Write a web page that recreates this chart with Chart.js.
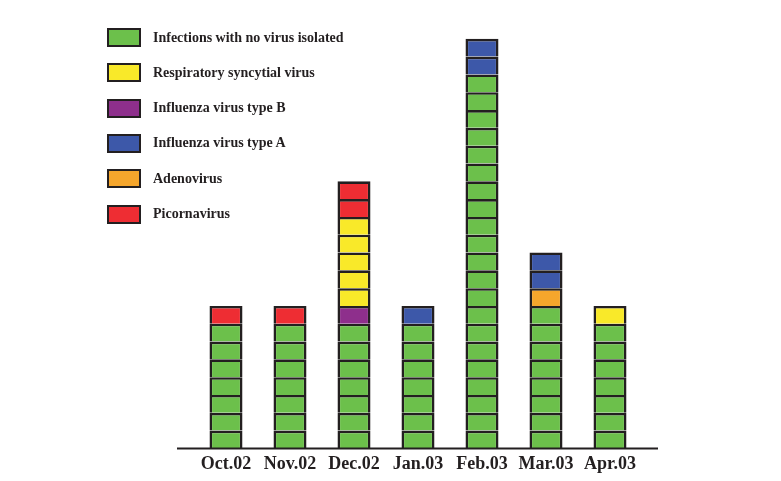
<!DOCTYPE html>
<html>
<head>
<meta charset="utf-8">
<script src="https://cdn.jsdelivr.net/npm/chart.js@4"></script>
<style>
html,body{margin:0;padding:0;background:#fff;}
#wrap{position:relative;width:781px;height:481px;}
canvas{position:absolute;left:0;top:0;}
.leg{position:absolute;left:107px;height:19px;display:flex;align-items:center;}
.sw{width:34px;height:19px;box-sizing:border-box;border:2px solid #231f20;}
.lt{position:absolute;left:46px;white-space:nowrap;font:bold 14px "Liberation Serif","Times New Roman",serif;color:#231f20;}
</style>
</head>
<body>
<div id="wrap"><canvas id="c" width="781" height="481"></canvas><div id="legend"></div></div>
<script>
const categories = ['Oct.02','Nov.02','Dec.02','Jan.03','Feb.03','Mar.03','Apr.03'];
const noVirus  = [7, 7, 7, 7, 21, 8, 7];
const rsv      = [0, 0, 5, 0, 0, 0, 1];
const fluB     = [0, 0, 1, 0, 0, 0, 0];
const fluA     = [0, 0, 0, 1, 2, 2, 0];
const adeno    = [0, 0, 0, 0, 0, 1, 0];
const picorna  = [1, 1, 2, 0, 0, 0, 0];

const series = {
  noVirus: {label:'Infections with no virus isolated', data:noVirus, color:'#6cc04b'},
  rsv:     {label:'Respiratory syncytial virus', data:rsv, color:'#f9e929'},
  fluB:    {label:'Influenza virus type B', data:fluB, color:'#8e2f8c'},
  fluA:    {label:'Influenza virus type A', data:fluA, color:'#3d58a9'},
  adeno:   {label:'Adenovirus', data:adeno, color:'#f5a62c'},
  picorna: {label:'Picornavirus', data:picorna, color:'#ee2d33'}
};
const stackOrder = ['noVirus','fluB','adeno','fluA','rsv','picorna'];
const legendOrder = ['noVirus','rsv','fluB','fluA','adeno','picorna'];

// one dataset per unit case (each box = one case)
const datasets = [];
stackOrder.forEach(key => {
  const s = series[key];
  const m = Math.max(...s.data);
  for (let k = 0; k < m; k++) {
    datasets.push({
      label: s.label,
      data: s.data.map(v => v > k ? 1 : null),
      backgroundColor: s.color,
      borderColor: '#231f20',
      borderWidth: 2.6,
      borderSkipped: 'start',
      barPercentage: 0.516,
      categoryPercentage: 1.0
    });
  }
});

// legend
const lg = document.getElementById('legend');
legendOrder.forEach((key, i) => {
  const d = document.createElement('div');
  d.className = 'leg';
  d.style.top = (28 + i * 35.3) + 'px';
  d.innerHTML = '<div class="sw" style="background:' + series[key].color + '"></div><span class="lt">' + series[key].label + '</span>';
  lg.appendChild(d);
});

const axisLine = {
  id: 'axisLine',
  afterDatasetsDraw(chart) {
    const ctx = chart.ctx, a = chart.chartArea;
    ctx.save();
    ctx.strokeStyle = '#231f20';
    ctx.lineWidth = 2;
    ctx.beginPath();
    ctx.moveTo(a.left - 17, a.bottom);
    ctx.lineTo(a.right + 16, a.bottom);
    ctx.stroke();
    ctx.restore();
  }
};

new Chart(document.getElementById('c'), {
  type: 'bar',
  data: { labels: categories, datasets },
  options: {
    responsive: false,
    animation: false,
    layout: { padding: { left: 194, right: 139, top: 21, bottom: 1 } },
    plugins: { legend: { display: false }, tooltip: { enabled: false } },
    scales: {
      x: {
        stacked: true,
        grid: { display: false, drawTicks: false },
        border: { display: false },
        ticks: { color: '#231f20', padding: 5, font: { family: 'Liberation Serif', size: 18, weight: 'bold' } }
      },
      y: {
        stacked: true,
        display: false,
        min: 0,
        max: 24
      }
    }
  },
  plugins: [axisLine]
});
</script>
</body>
</html>
